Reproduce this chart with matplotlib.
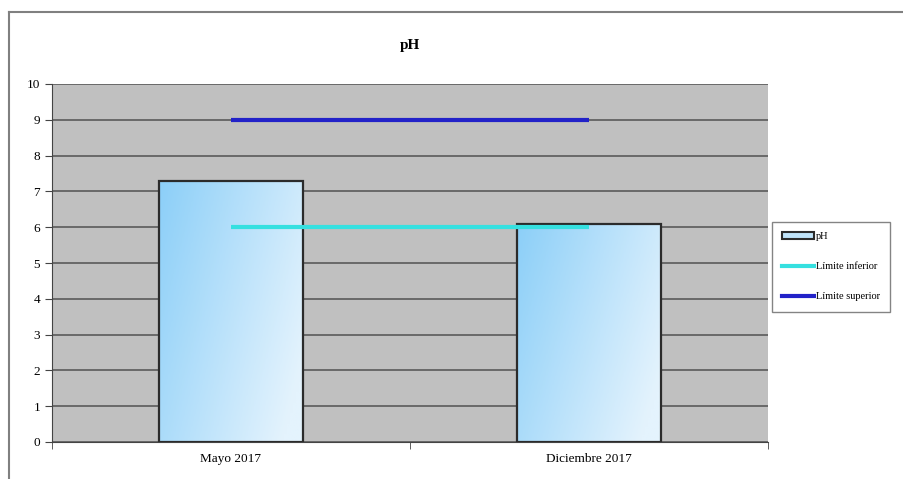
import numpy as np
import matplotlib.pyplot as plt
from matplotlib.patches import Rectangle
from matplotlib.lines import Line2D

# Datos
categorias = ['Mayo 2017', 'Diciembre 2017']
ph_valores = [7.3, 6.1]
limite_inferior = [6, 6]
limite_superior = [9, 9]

plt.rcParams['font.family'] = ['Liberation Serif', 'DejaVu Serif']

fig = plt.figure(figsize=(9.04, 4.79), dpi=100)
ax = fig.add_axes([52 / 904, 37 / 479, 716 / 904, 358 / 479])
ax.set_facecolor('#c0c0c0')

x = np.arange(len(categorias))
ancho = 0.40

# Degradado para las barras
grad = np.zeros((50, 50, 3))
c1 = np.array([0x8c, 0xcf, 0xf8]) / 255
c2 = np.array([0xe4, 0xf3, 0xfd]) / 255
for i in range(50):
    for j in range(50):
        t = min(1.0, (j / 49) * 0.75 + (i / 49) * 0.35)
        grad[i, j] = c1 * (1 - t) + c2 * t

barras = ax.bar(x, ph_valores, ancho, color='none', edgecolor='#2b2b2b',
                linewidth=1.6, zorder=3, label='pH')
for b in barras:
    x0, y0 = b.get_x(), b.get_y()
    w, h = b.get_width(), b.get_height()
    im = ax.imshow(grad, extent=[x0, x0 + w, y0, y0 + h], aspect='auto',
                   origin='upper', zorder=2)
    im.set_clip_path(Rectangle((x0, y0), w, h, transform=ax.transData))

ax.plot(x, limite_inferior, color='#35e0e0', linewidth=3, zorder=4,
        solid_capstyle='butt', label='Límite inferior')
ax.plot(x, limite_superior, color='#2222c8', linewidth=3, zorder=4,
        solid_capstyle='butt', label='Límite superior')

ax.set_xlim(-0.5, 1.5)
ax.set_ylim(0, 10)
ax.set_yticks(range(0, 11))
ax.yaxis.grid(True, color='#5a5a5a', linewidth=1.2, zorder=1)
ax.set_axisbelow(True)

ax.set_xticks(x)
ax.set_xticklabels(categorias, fontsize=9.5)
ax.set_xticks([-0.5, 0.5, 1.5], minor=True)
ax.tick_params(axis='x', which='major', length=0, pad=8)
ax.tick_params(axis='x', which='minor', length=5, color='#444444')
ax.tick_params(axis='y', labelsize=9.5, length=5, color='#444444')

for s in ['top', 'right']:
    ax.spines[s].set_visible(False)
ax.spines['left'].set_color('#444444')
ax.spines['bottom'].set_color('#444444')

ax.set_title('pH', fontsize=11, fontweight='bold', pad=25.5)

handles = [
    Rectangle((0, 0), 1, 1, facecolor='#bfe3f9', edgecolor='#2b2b2b', linewidth=1.5),
    Line2D([], [], color='#35e0e0', linewidth=3),
    Line2D([], [], color='#2222c8', linewidth=3),
]
leg = fig.legend(handles, ['pH', 'Límite inferior', 'Límite superior'],
                 loc='upper left', bbox_to_anchor=(772 / 904, 1 - 222 / 479),
                 fontsize=7.5, frameon=True, fancybox=False, edgecolor='#666666',
                 handlelength=3.0, handleheight=0.6, labelspacing=2.0,
                 borderpad=1.0, handletextpad=0.2, borderaxespad=0)

# Borde exterior del gráfico (izquierda y arriba)
fig.add_artist(Line2D([9 / 904, 9 / 904], [0, 1 - 12 / 479], color='#808080',
                      linewidth=1.5, transform=fig.transFigure))
fig.add_artist(Line2D([9 / 904, 1], [1 - 12 / 479, 1 - 12 / 479], color='#808080',
                      linewidth=1.5, transform=fig.transFigure))

fig.savefig('out.png', dpi=100)
